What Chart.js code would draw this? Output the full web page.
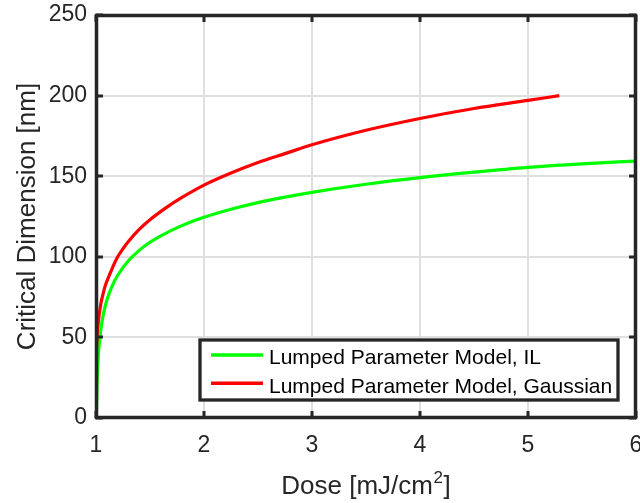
<!DOCTYPE html>
<html>
<head>
<meta charset="utf-8">
<script src="https://cdn.jsdelivr.net/npm/chart.js@4.4.1/dist/chart.umd.min.js"></script>
<style>
  html, body { margin: 0; padding: 0; background: #ffffff; }
  #wrap { width: 640px; height: 503px; }
</style>
</head>
<body>
<div id="wrap"><canvas id="c" width="640" height="503"></canvas></div>
<script>
// ---- data ----
const doseIL = [1.0, 1.005, 1.01, 1.02, 1.03, 1.05, 1.075, 1.1, 1.15, 1.2, 1.3, 1.4, 1.5, 1.6, 1.8, 2.0, 2.25, 2.5, 2.75, 3.0, 3.5, 4.0, 4.5, 5.0, 5.5, 6.0];
const cdIL   = [0, 6, 21.4, 37, 46, 57.4, 66.5, 73, 82, 88.4, 97.5, 104, 109, 113, 119.5, 124.5, 129.5, 133.6, 137, 140, 145, 149.1, 152.5, 155.5, 157.7, 159.4];

const doseGauss = [1.0, 1.002, 1.005, 1.01, 1.02, 1.04, 1.06, 1.083, 1.12, 1.19, 1.25, 1.3, 1.4, 1.5, 1.65, 1.8, 2.0, 2.25, 2.5, 2.75, 3.0, 3.5, 4.0, 4.5, 5.0, 5.29];
const cdGauss   = [0, 34, 43.5, 50, 58.5, 69, 75.5, 81.5, 88, 98.7, 105, 109.5, 117, 123, 130.5, 137, 144.5, 152, 158.5, 164, 169.5, 178.5, 185.8, 192, 197, 200];

const seriesLabels = ['Lumped Parameter Model, IL', 'Lumped Parameter Model, Gaussian'];
const xTicks = [1, 2, 3, 4, 5, 6];
const yTicks = [0, 50, 100, 150, 200, 250];
const xTitleMain = 'Dose [mJ/cm';
const xTitleSup = '2';
const xTitleEnd = ']';
const yTitle = 'Critical Dimension [nm]';

const FONT = "'Liberation Sans', Arial, Helvetica, sans-serif";
const INK = '#262626';

function toPts(xs, ys) { return xs.map((x, i) => ({ x: x, y: ys[i] })); }

const boxPlugin = {
  id: 'boxPlugin',
  afterDraw(chart) {
    const ctx = chart.ctx;
    const a = chart.chartArea;
    const xs = chart.scales.x, ys = chart.scales.y;
    ctx.save();
    ctx.strokeStyle = INK;
    ctx.lineWidth = 3;
    // inward ticks
    const tl = 7;
    ctx.beginPath();
    xTicks.forEach(v => {
      const p = Math.round(xs.getPixelForValue(v));
      ctx.moveTo(p, a.bottom); ctx.lineTo(p, a.bottom - tl);
      ctx.moveTo(p, a.top); ctx.lineTo(p, a.top + tl);
    });
    yTicks.forEach(v => {
      const p = Math.round(ys.getPixelForValue(v));
      ctx.moveTo(a.left, p); ctx.lineTo(a.left + tl, p);
      ctx.moveTo(a.right, p); ctx.lineTo(a.right - tl, p);
    });
    ctx.stroke();
    // box
    ctx.lineWidth = 3.5;
    ctx.strokeRect(a.left + 0.5, a.top + 0.5, a.right - a.left - 1, a.bottom - a.top - 1);

    // legend
    const lRight = a.right - 18, lBottom = a.bottom - 18;
    const lw = 418, lh = 60;
    const lx = lRight - lw, ly = lBottom - lh;
    ctx.fillStyle = '#ffffff';
    ctx.fillRect(lx, ly, lw, lh);
    ctx.lineWidth = 3.3;
    ctx.strokeStyle = INK;
    ctx.strokeRect(lx, ly, lw, lh);
    ctx.font = '21px ' + FONT;
    ctx.textBaseline = 'alphabetic';
    ctx.textAlign = 'left';
    chart.data.datasets.forEach((ds, i) => {
      const yy = ly + 15 + i * 28.3;
      ctx.strokeStyle = ds.borderColor;
      ctx.lineWidth = 3.4;
      ctx.beginPath();
      ctx.moveTo(lx + 11, yy); ctx.lineTo(lx + 63, yy);
      ctx.stroke();
      ctx.fillStyle = '#000000';
      ctx.fillText(ds.label, lx + 69, yy + 9.3);
    });

    // x-axis title with superscript
    const big = '26px ' + FONT, small = '17px ' + FONT;
    ctx.font = big;
    const w1 = ctx.measureText(xTitleMain).width;
    const w3 = ctx.measureText(xTitleEnd).width;
    ctx.font = small;
    const w2 = ctx.measureText(xTitleSup).width;
    const total = w1 + w2 + w3 + 1;
    let tx = (a.left + a.right) / 2 - total / 2;
    const base = 494;
    ctx.fillStyle = INK;
    ctx.font = big;
    ctx.fillText(xTitleMain, tx, base);
    tx += w1 + 0.5;
    ctx.font = small;
    ctx.fillText(xTitleSup, tx, base - 11);
    tx += w2 + 0.5;
    ctx.font = big;
    ctx.fillText(xTitleEnd, tx, base);
    ctx.restore();
  }
};

new Chart(document.getElementById('c'), {
  type: 'scatter',
  data: {
    datasets: [
      { label: seriesLabels[0], data: toPts(doseIL, cdIL), showLine: true, borderColor: '#00ff00', backgroundColor: '#00ff00', borderWidth: 3.2, pointRadius: 0, cubicInterpolationMode: 'monotone', order: 1 },
      { label: seriesLabels[1], data: toPts(doseGauss, cdGauss), showLine: true, borderColor: '#ff0000', backgroundColor: '#ff0000', borderWidth: 3.2, pointRadius: 0, cubicInterpolationMode: 'monotone', order: 0 }
    ]
  },
  options: {
    responsive: false,
    animation: false,
    devicePixelRatio: 1,
    layout: { padding: { top: 15, right: 4, left: 0, bottom: 0 } },
    plugins: { legend: { display: false }, tooltip: { enabled: false } },
    scales: {
      x: {
        type: 'linear', min: 1, max: 6,
        afterBuildTicks(s) { s.ticks = xTicks.map(v => ({ value: v })); },
        afterFit(s) { s.height = 85; s.paddingLeft = 0; s.paddingRight = 0; },
        grid: { color: '#dfdfdf', lineWidth: 2, drawTicks: false, tickLength: 0 },
        border: { display: false },
        ticks: { color: INK, font: { family: FONT, size: 23 }, padding: 14, maxRotation: 0 },
        title: { display: false }
      },
      y: {
        type: 'linear', min: 0, max: 250,
        afterBuildTicks(s) { s.ticks = yTicks.map(v => ({ value: v })); },
        afterFit(s) { s.width = 96; s.paddingTop = 0; s.paddingBottom = 0; },
        grid: { color: '#dfdfdf', lineWidth: 2, drawTicks: false, tickLength: 0 },
        border: { display: false },
        ticks: { color: INK, font: { family: FONT, size: 23 }, padding: 9 },
        title: { display: true, text: yTitle, color: INK, font: { family: FONT, size: 26 }, padding: { top: 12, bottom: 0 } }
      }
    }
  },
  plugins: [boxPlugin]
});
</script>
</body>
</html>
